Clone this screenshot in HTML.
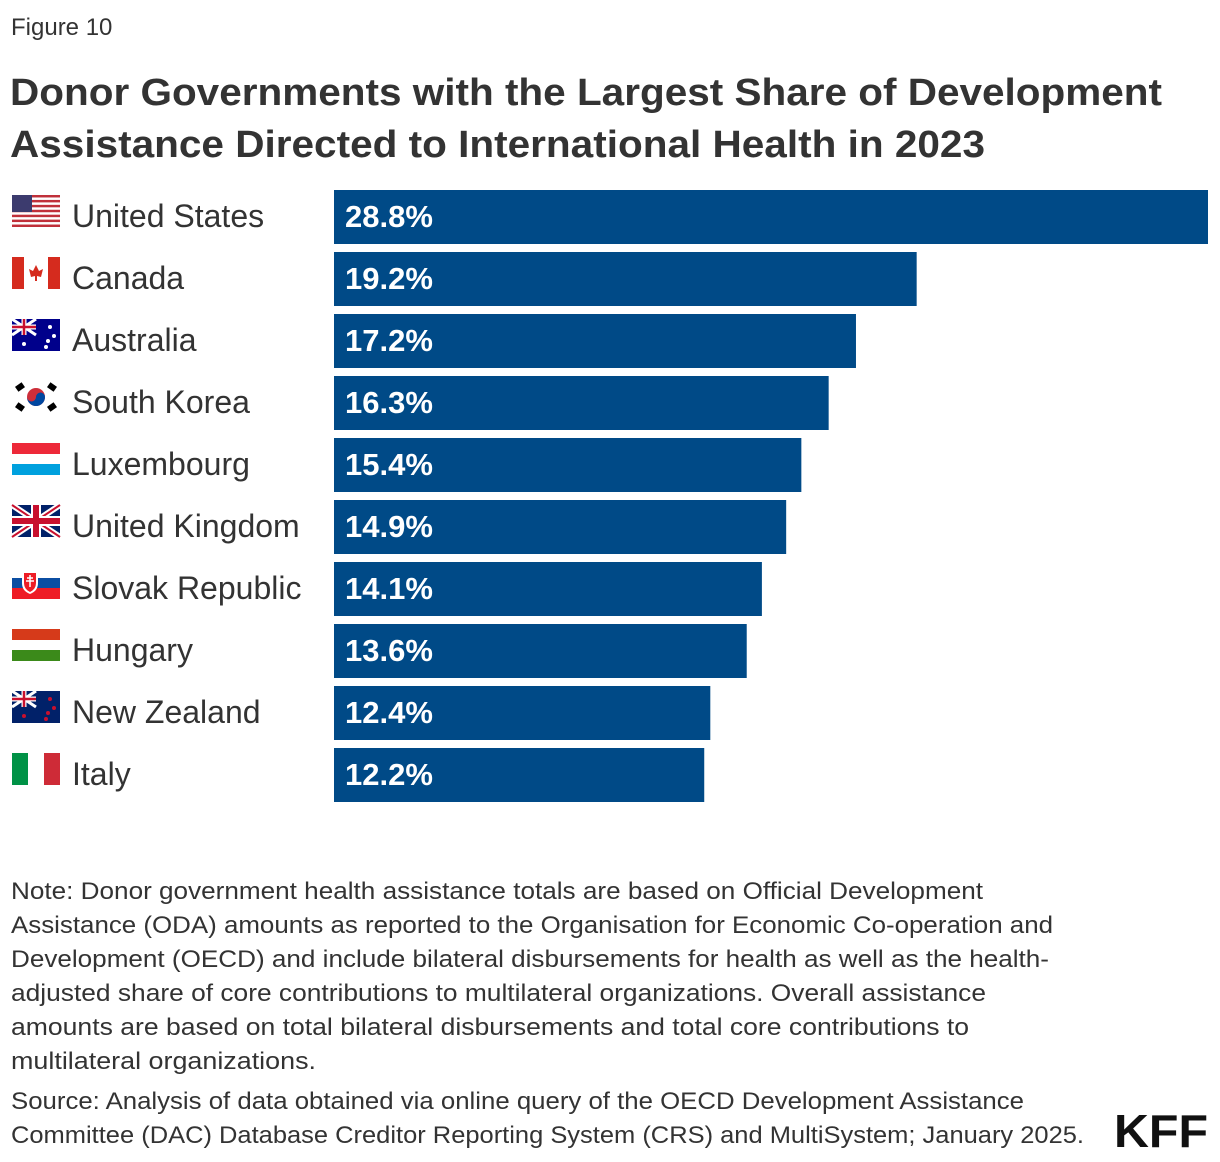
<!DOCTYPE html>
<html><head><meta charset="utf-8"><style>
html,body{margin:0;padding:0;background:#fff;}
svg{display:block;font-family:"Liberation Sans",sans-serif;}
</style></head><body>
<svg id="chart" width="1220" height="1162" viewBox="0 0 1220 1162" xmlns="http://www.w3.org/2000/svg">
<text x="11" y="35" font-size="24" fill="#333">Figure 10</text>
<text x="10" y="105" font-size="38" font-weight="bold" fill="#333" textLength="1152" lengthAdjust="spacingAndGlyphs">Donor Governments with the Largest Share of Development</text>
<text x="10" y="157" font-size="38" font-weight="bold" fill="#333" textLength="975" lengthAdjust="spacingAndGlyphs">Assistance Directed to International Health in 2023</text>
<g id="bars"></g>
<g id="flags"></g>
<g font-size="24" fill="#333">
<text x="11" y="899" textLength="972" lengthAdjust="spacingAndGlyphs">Note: Donor government health assistance totals are based on Official Development</text>
<text x="11" y="933" textLength="1042" lengthAdjust="spacingAndGlyphs">Assistance (ODA) amounts as reported to the Organisation for Economic Co-operation and</text>
<text x="11" y="967" textLength="1038" lengthAdjust="spacingAndGlyphs">Development (OECD) and include bilateral disbursements for health as well as the health-</text>
<text x="11" y="1001" textLength="975" lengthAdjust="spacingAndGlyphs">adjusted share of core contributions to multilateral organizations. Overall assistance</text>
<text x="11" y="1035" textLength="958" lengthAdjust="spacingAndGlyphs">amounts are based on total bilateral disbursements and total core contributions to</text>
<text x="11" y="1069" textLength="305" lengthAdjust="spacingAndGlyphs">multilateral organizations.</text>
</g>
<g font-size="24" fill="#333">
<text x="11" y="1109" textLength="1013" lengthAdjust="spacingAndGlyphs">Source: Analysis of data obtained via online query of the OECD Development Assistance</text>
<text x="11" y="1143" textLength="1073" lengthAdjust="spacingAndGlyphs">Committee (DAC) Database Creditor Reporting System (CRS) and MultiSystem; January 2025.</text>
</g>
<text x="1114" y="1147" font-size="46" font-weight="bold" fill="#111" textLength="94" lengthAdjust="spacingAndGlyphs">KFF</text>
</svg>
<script>
const categories = ["United States","Canada","Australia","South Korea","Luxembourg","United Kingdom","Slovak Republic","Hungary","New Zealand","Italy"];
const values = [28.8,19.2,17.2,16.3,15.4,14.9,14.1,13.6,12.4,12.2];
const valueLabels = ["28.8%","19.2%","17.2%","16.3%","15.4%","14.9%","14.1%","13.6%","12.4%","12.2%"];

const NS="http://www.w3.org/2000/svg";
const x0=334, xMax=1208, domainMax=28.8;
function xScale(v){return (v/domainMax)*(xMax-x0);}
function yBand(i){return 190+i*62;}
const bandH=54;
const bars=document.getElementById('bars');
const flags=document.getElementById('flags');
function mk(tag,attrs,parent){const e=document.createElementNS(NS,tag);for(const k in attrs)e.setAttribute(k,attrs[k]);parent.appendChild(e);return e;}
categories.forEach((c,i)=>{
  const y=yBand(i);
  const r=mk('rect',{x:x0,y:y,width:xScale(values[i]),height:bandH,fill:'#004a87'},bars);
  
  
  const v=mk('text',{x:345,y:y+37,'font-size':31,'font-weight':600,fill:'#fff'},bars);
  v.textContent=valueLabels[i];
  
  
  const l=mk('text',{x:72,y:y+37,'font-size':32,fill:'#333'},bars);
  l.textContent=c;
  
  
  const g=mk('g',{transform:'translate(12,'+(y+5)+')'},flags);
  
  
  drawFlag(i,g);
});
function drawFlag(i,g){
  const W=48,H=32;
  if(i===0){mk('rect',{width:W,height:H,fill:'#fff'},g);for(let k=0;k<7;k++)mk('rect',{y:k*H*2/13,width:W,height:H/13,fill:'#c0303a'},g);mk('rect',{width:20,height:17,fill:'#3c3b6e'},g);}
  else if(i===1){mk('rect',{width:W,height:H,fill:'#fff'},g);mk('rect',{width:12,height:H,fill:'#d52b1e'},g);mk('rect',{x:36,width:12,height:H,fill:'#d52b1e'},g);mk('path',{d:'M24 8 L27 14 L31 12 L29 20 L25 19 L25 24 L23 24 L23 19 L19 20 L17 12 L21 14Z',fill:'#d52b1e'},g);}
  else if(i===2||i===8){mk('rect',{width:W,height:H,fill:i===2?'#00008b':'#012169'},g);mk('path',{d:'M0 0L24 16M24 0L0 16',stroke:'#fff','stroke-width':3},g);mk('path',{d:'M12 0V16M0 8H24',stroke:'#fff','stroke-width':5},g);mk('path',{d:'M12 0V16M0 8H24',stroke:'#c8102e','stroke-width':2.5},g);
    const c=i===2?'#fff':'#c8102e';[[12,25],[38,8],[42,17],[36,22],[34,28]].forEach(p=>mk('circle',{cx:p[0],cy:p[1],r:2,fill:c},g));}
  else if(i===3){mk('circle',{cx:24,cy:16,r:9,fill:'#cd2e3a'},g);mk('path',{d:'M15 16 A9 9 0 0 0 33 16 A4.5 4.5 0 0 0 24 16 A4.5 4.5 0 0 1 15 16Z',fill:'#0047a0'},g);[[8,6],[40,6],[8,26],[40,26]].forEach(p=>mk('rect',{x:p[0]-4,y:p[1]-3,width:8,height:6,fill:'#000',transform:'rotate('+((p[0]<24)===(p[1]<16)?-35:35)+' '+p[0]+' '+p[1]+')'},g));}
  else if(i===4){mk('rect',{width:W,height:11,fill:'#ed2939'},g);mk('rect',{y:21,width:W,height:11,fill:'#00a1de'},g);}
  else if(i===5){mk('rect',{width:W,height:H,fill:'#012169'},g);mk('path',{d:'M0 0L48 32M48 0L0 32',stroke:'#fff','stroke-width':6},g);mk('path',{d:'M0 0L48 32M48 0L0 32',stroke:'#c8102e','stroke-width':2},g);mk('path',{d:'M24 0V32M0 16H48',stroke:'#fff','stroke-width':10},g);mk('path',{d:'M24 0V32M0 16H48',stroke:'#c8102e','stroke-width':6},g);}
  else if(i===6){mk('rect',{y:11,width:W,height:11,fill:'#0b4ea2'},g);mk('rect',{y:21,width:W,height:11,fill:'#ee1c25'},g);mk('path',{d:'M10 4H26V16Q26 24 18 27Q10 24 10 16Z',fill:'#fff'},g);mk('path',{d:'M12 6H24V16Q24 22 18 25Q12 22 12 16Z',fill:'#ee1c25'},g);mk('path',{d:'M18 8V20M15 11H21M14 14H22',stroke:'#fff','stroke-width':1.5},g);}
  else if(i===7){mk('rect',{width:W,height:11,fill:'#d63a1a'},g);mk('rect',{y:21,width:W,height:11,fill:'#3b8a1a'},g);}
  else if(i===9){mk('rect',{width:16,height:H,fill:'#009246'},g);mk('rect',{x:32,width:16,height:H,fill:'#ce2b37'},g);}
}
</script>
</body></html>
